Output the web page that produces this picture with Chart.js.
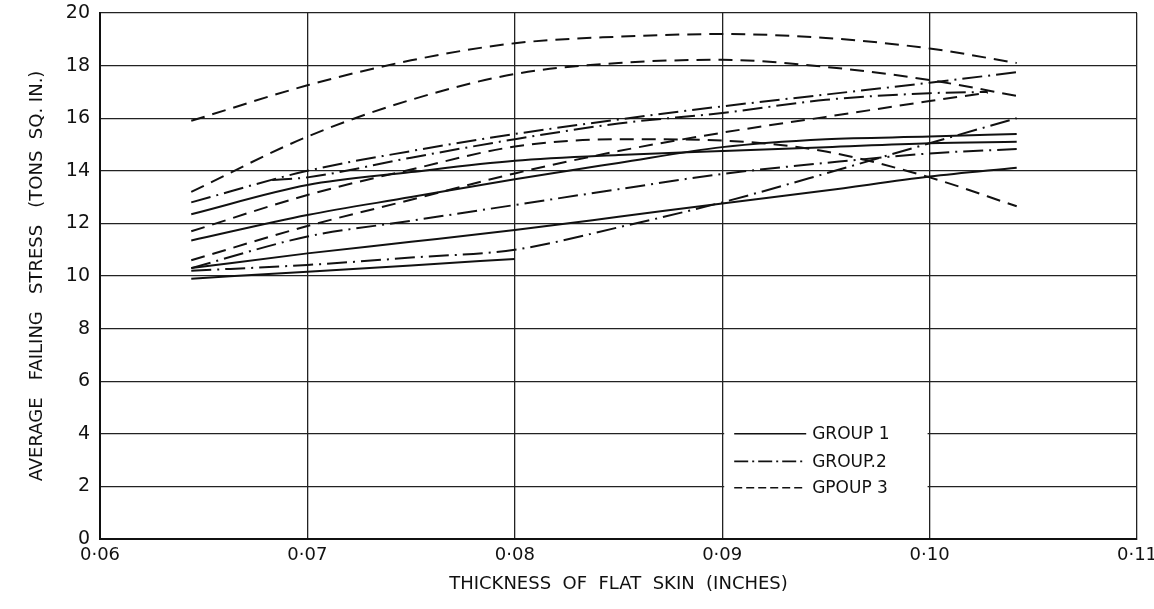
<!DOCTYPE html>
<html>
<head>
<meta charset="utf-8">
<script src="https://cdn.jsdelivr.net/npm/chart.js@4.4.1/dist/chart.umd.min.js"></script>
<style>
  html, body { margin: 0; padding: 0; background: #fff; }
  #wrap { width: 1154px; height: 609px; }
</style>
</head>
<body>
<div id="wrap"><canvas id="skin-chart" width="1154" height="609"></canvas></div>
<script>
// thickness of flat skin (inches)
const thickness = [0.0644, 0.0683, 0.07, 0.075, 0.08, 0.085, 0.09, 0.095, 0.10, 0.1028, 0.1042];

// average failing stress (tons / sq in)
const group1a = [10.3, null, 10.86, 11.3, 11.75, 12.25, 12.76, 13.25, 13.78, null, 14.12];
const group1b = [11.35, null, 12.32, 13.0, 13.68, 14.3, 14.9, 15.2, 15.3, null, 15.4];
const group1c = [12.35, null, 13.46, 13.95, 14.38, 14.6, 14.75, 14.9, 15.05, null, 15.1];
const group1d = [9.9, null, 10.16, 10.4, 10.65, null, null, null, null, null, null];

const group2a = [12.8, null, 14.0, 14.75, 15.4, 15.95, 16.45, 16.9, 17.35, null, 17.75];
const group2b = [null, 13.65, 13.75, 14.5, 15.2, 15.8, 16.2, 16.7, 16.95, 17.0, null];
const group2c = [10.2, null, 10.42, 10.7, 11.0, 11.85, 12.8, 13.9, 15.05, null, 16.0];
const group2d = [10.3, null, 11.5, 12.1, 12.7, 13.3, 13.88, 14.3, 14.66, null, 14.83];

const group3a = [15.9, null, 17.25, 18.2, 18.85, 19.1, 19.2, 19.05, 18.65, null, 18.1];
const group3b = [13.2, null, 15.3, 16.7, 17.68, 18.1, 18.22, 17.95, 17.45, null, 16.85];
const group3c = [11.7, null, 13.08, 14.05, 14.92, 15.2, 15.15, 14.73, 13.75, null, 12.65];
const group3d = [10.6, null, 11.9, 12.9, 13.9, 14.75, 15.45, 16.05, 16.65, 16.97, null];

const legendLabels = ['GROUP 1', 'GROUP.2', 'GPOUP 3'];

const FONT = 'DejaVu Sans';
const SOLID = [];
const DASH_DOT = [20, 6, 2, 6];
const DASHED = [14, 8];

const toPoints = (values) => values.map((v, i) => ({ x: thickness[i], y: v }));

const curve = (values, dash) => ({
  data: toPoints(values),
  borderColor: '#111',
  borderWidth: 2,
  borderDash: dash,
  pointRadius: 0,
  fill: false,
  spanGaps: true,
  cubicInterpolationMode: 'monotone',
});

// legend sits inside the plot, between the 0.09 and 0.10 grid lines
const legendBox = {
  id: 'legendBox',
  afterDraw(chart) {
    const { ctx, scales: { x, y } } = chart;
    const left = x.getPixelForValue(0.09) + 2;
    const right = x.getPixelForValue(0.10) - 2;
    const top = y.getPixelForValue(4.7);
    const bottom = y.getPixelForValue(1.5);
    ctx.save();
    ctx.fillStyle = '#fff';
    ctx.fillRect(left, top, right - left, bottom - top);

    const dashes = [[], [14, 4, 2, 4], [8, 4]];
    const rows = [4.0, 2.95, 1.95];
    ctx.font = `17px "${FONT}"`;
    ctx.textBaseline = 'middle';
    ctx.fillStyle = '#111';
    ctx.strokeStyle = '#111';
    ctx.lineWidth = 1.6;
    rows.forEach((val, i) => {
      const py = y.getPixelForValue(val);
      ctx.setLineDash(dashes[i]);
      ctx.beginPath();
      ctx.moveTo(left + 10, py);
      ctx.lineTo(left + 82, py);
      ctx.stroke();
      ctx.fillText(legendLabels[i], left + 88, py + 1);
    });
    ctx.restore();
  },
};

const ctx = document.getElementById('skin-chart').getContext('2d');

new Chart(ctx, {
  type: 'line',
  data: {
    datasets: [
      curve(group1a, SOLID),
      curve(group1b, SOLID),
      curve(group1c, SOLID),
      curve(group1d, SOLID),
      curve(group2a, DASH_DOT),
      curve(group2b, DASH_DOT),
      curve(group2c, DASH_DOT),
      curve(group2d, DASH_DOT),
      curve(group3a, DASHED),
      curve(group3b, DASHED),
      curve(group3c, DASHED),
      curve(group3d, DASHED),
    ],
  },
  options: {
    responsive: false,
    animation: false,
    devicePixelRatio: 1,
    layout: {
      padding: { top: 13, right: 17, left: 0, bottom: 0 },
    },
    plugins: {
      legend: { display: false },
      tooltip: { enabled: false },
    },
    scales: {
      x: {
        type: 'linear',
        min: 0.06,
        max: 0.11,
        afterFit(scale) {
          scale.height = 70;
          scale.paddingLeft = 0;
          scale.paddingRight = 0;
        },
        ticks: {
          stepSize: 0.01,
          padding: 6,
          color: '#111',
          font: { family: FONT, size: 18 },
          maxRotation: 0,
          callback: (v) => v.toFixed(2).replace('.', '·'),
        },
        grid: {
          color: '#222',
          lineWidth: 1.3,
          drawTicks: false,
        },
        border: { color: '#111', width: 2 },
        title: {
          display: true,
          text: 'THICKNESS  OF  FLAT  SKIN  (INCHES)',
          color: '#111',
          font: { family: FONT, size: 18 },
          padding: { top: 0, bottom: 14 },
        },
      },
      y: {
        min: 0,
        max: 20,
        afterFit(scale) {
          scale.width = 100;
          scale.paddingTop = 0;
          scale.paddingBottom = 0;
        },
        ticks: {
          stepSize: 2,
          padding: 10,
          color: '#111',
          font: { family: FONT, size: 19 },
        },
        grid: {
          color: '#222',
          lineWidth: 1.3,
          drawTicks: false,
        },
        border: { color: '#111', width: 2 },
        title: {
          display: true,
          text: 'AVERAGE   FAILING   STRESS   (TONS  SQ. IN.)',
          color: '#111',
          font: { family: FONT, size: 18 },
          padding: { top: 27, bottom: 0 },
        },
      },
    },
  },
  plugins: [legendBox],
});
</script>
</body>
</html>
